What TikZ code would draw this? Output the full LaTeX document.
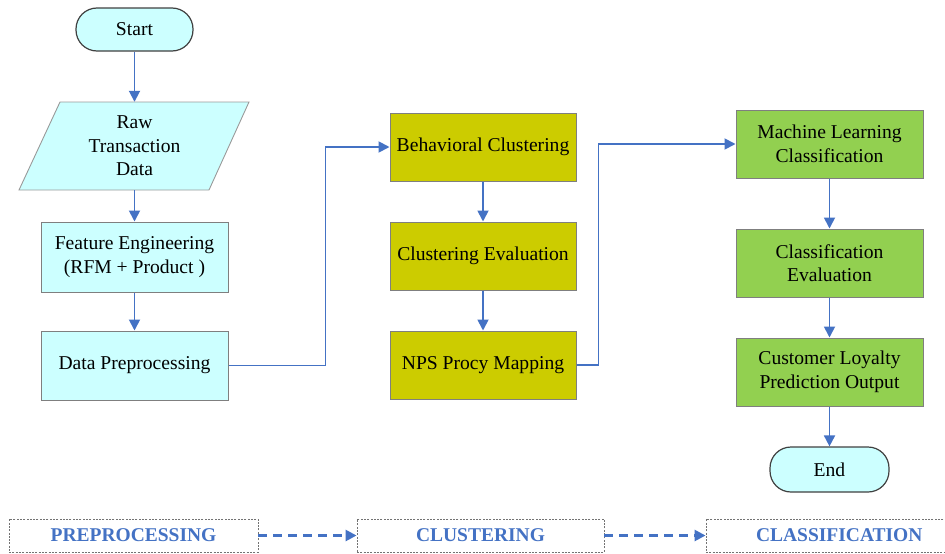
\documentclass[tikz,border=0pt]{standalone}
\usepackage{fontspec}
\setmainfont{Liberation Serif}
\usetikzlibrary{arrows.meta}
\definecolor{cyanfill}{HTML}{CCFFFF}
\definecolor{olivefill}{HTML}{CCCC00}
\definecolor{greenfill}{HTML}{92D050}
\definecolor{flowblue}{HTML}{4472C4}
\definecolor{edgegray}{HTML}{7F7F7F}
\tikzset{
  x=1pt, y=-1pt,
  every node/.style={font=\fontsize{19.6}{23.5}\selectfont, align=center, inner sep=0pt},
  terminal/.style={draw=black!75, line width=1.2pt, fill=cyanfill, rounded corners=21pt},
  procbox/.style={draw=edgegray, line width=1pt, minimum width=187pt, minimum height=69pt},
  cyanbox/.style={procbox, fill=cyanfill},
  olivebox/.style={procbox, fill=olivefill, minimum width=186pt, minimum height=68pt},
  greenbox/.style={procbox, fill=greenfill, minimum height=68pt},
  flow/.style={draw=flowblue, line width=1.8pt, -{Triangle[length=11pt,width=11pt]}},
  stagebox/.style={draw=black!55, line width=0.9pt, dash pattern=on 2pt off 1.3pt,
    minimum height=33pt, text=flowblue, font=\fontsize{19.5}{22}\selectfont\bfseries},
  stageflow/.style={draw=flowblue, line width=2.6pt, dash pattern=on 9pt off 6pt,
    -{Triangle[length=11pt,width=11pt]}}
}
\begin{document}
\begin{tikzpicture}
\useasboundingbox (0,0) rectangle (945,554);

% column 1: preprocessing
\node[terminal, minimum width=117pt, minimum height=43pt] (start) at (134.5,29.5) {Start};
\path[fill=cyanfill, draw=edgegray!80, line width=0.9pt]
  (19,190) -- (60,102) -- (249,102) -- (209,190) -- cycle;
\node[minimum width=150pt, minimum height=88pt] (raw) at (134.5,146) {Raw\\Transaction\\Data};
\node[cyanbox, minimum height=70pt] (feat) at (134.5,257) {Feature Engineering\\(RFM + Product )};
\node[cyanbox] (prep) at (134.5,365.5) {Data Preprocessing};

% column 2: clustering
\node[olivebox] (beh) at (483,147) {Behavioral Clustering};
\node[olivebox] (ceval) at (483,256) {Clustering Evaluation};
\node[olivebox] (nps) at (483,365) {NPS Procy Mapping};

% column 3: classification
\node[greenbox] (ml) at (829.5,144) {Machine Learning\\Classification};
\node[greenbox] (kval) at (829.5,263) {Classification\\Evaluation};
\node[greenbox] (loyal) at (829.5,372) {Customer Loyalty\\Prediction Output};
\node[terminal, minimum width=119pt, minimum height=45pt] (end) at (829.5,469.5) {End};

% connectors
\draw[flow] (start) -- (raw);
\draw[flow] (raw) -- (feat);
\draw[flow] (feat) -- (prep);
\draw[flow] (prep.east) -- ++(97,0) |- (beh.west);
\draw[flow] (beh) -- (ceval);
\draw[flow] (ceval) -- (nps);
\draw[flow] (nps.east) -- ++(22,0) |- (ml.west);
\draw[flow] (ml) -- (kval);
\draw[flow] (kval) -- (loyal);
\draw[flow] (loyal) -- (end);

% stage legend
\node[stagebox, minimum width=249pt] (s1) at (133.5,535.5) {PREPROCESSING};
\node[stagebox, minimum width=247pt] (s2) at (480.5,535.5) {CLUSTERING};
\node[stagebox, minimum width=249pt, text width=229pt, align=left] (s3) at (830.5,535.5) {\hspace*{40pt}CLASSIFICATION};
\draw[stageflow] (s1) -- (s2);
\draw[stageflow] (s2) -- (s3);
\end{tikzpicture}
\end{document}
